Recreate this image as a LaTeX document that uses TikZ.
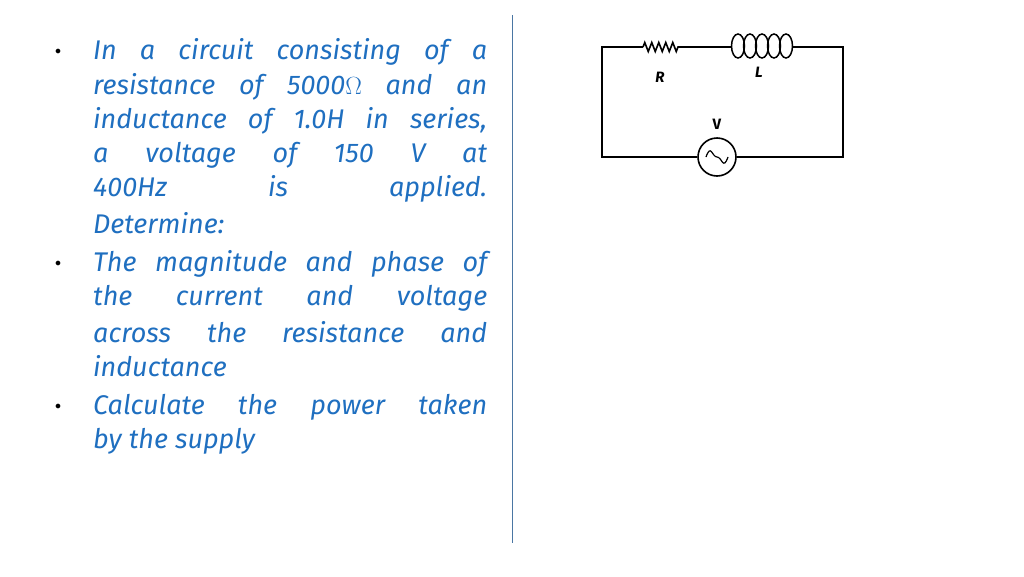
\documentclass[tikz,border=0pt]{standalone}
\usepackage{fontspec}
\setmainfont{Fira Sans}
\usetikzlibrary{decorations.pathmorphing}
\definecolor{inkblue}{HTML}{1F6FC0}
\tikzset{
    txt/.style={anchor=west, inner sep=0pt, text=inkblue, font=\fontsize{27}{30}\selectfont\itshape},
    bul/.style={anchor=center, inner sep=0pt, font=\fontsize{12}{14}\selectfont},
    wire/.style={draw=black, line width=1.6pt},
    lbl/.style={font=\fontsize{15}{17}\selectfont\bfseries, inner sep=0pt},
}
\newcommand{\jline}[1]{\makebox[394pt][s]{#1}}
\begin{document}
\begin{tikzpicture}[x=1pt,y=-1pt]
    \useasboundingbox (0,0) rectangle (1024,576);
    % divider
    \draw[draw=inkblue!55!gray, line width=1pt] (512,15) -- (512,543);

    % first item
    \node[bul] (b1) at (58,52) {$\bullet$};
    \node[txt] (t1) at (93,52) {\jline{In a circuit consisting of a}};
    \node[txt] (t2) at (93,87) {\jline{resistance of 5000$\Omega$ and an}};
    \node[txt] (t3) at (93,121) {\jline{inductance of 1.0H in series,}};
    \node[txt] (t4) at (93,155) {\jline{a voltage of 150 V at}};
    \node[txt] (t5) at (93,189) {\jline{400Hz is applied.}};
    \node[txt] (t6) at (93,223) {Determine:};
    % second item
    \node[bul] (b2) at (58,264) {$\bullet$};
    \node[txt] (t7) at (93,264) {\jline{The magnitude and phase of}};
    \node[txt] (t8) at (93,298) {\jline{the current and voltage}};
    \node[txt] (t9) at (93,332) {\jline{across the resistance and}};
    \node[txt] (t10) at (93,366) {inductance};
    % third item
    \node[bul] (b3) at (58,407) {$\bullet$};
    \node[txt] (t11) at (93,407) {\jline{Calculate the power taken}};
    \node[txt] (t12) at (93,441) {by the supply};

    % circuit
    \coordinate (tl) at (602,47);
    \coordinate (tr) at (843,47);
    \coordinate (bl) at (602,157);
    \coordinate (br) at (843,157);
    \coordinate (ra) at (643,47);
    \coordinate (rb) at (681,47);
    \coordinate (la) at (731,47);
    \coordinate (lb) at (793,47);
    \node[circle, draw, line width=1.6pt, minimum size=38pt, inner sep=0pt] (src) at (717,157) {};
    \draw[line width=1.2pt] ([xshift=-11pt]src.center) .. controls ++(5,-14) and ++(-5,0) .. (src.center)
        .. controls ++(5,0) and ++(-5,14) .. ([xshift=11pt]src.center);
    \draw[wire] (src.west) -- (bl) -- (tl) -- (ra);
    \draw[wire, decorate, decoration={zigzag, amplitude=4.5pt, segment length=7pt}] (ra) -- (rb);
    \draw[wire] (rb) -- (la);
    % coil loops
    \foreach \i in {0,...,4}
        \draw[line width=1.5pt] (738+12*\i,46) ellipse [x radius=6.5, y radius=12];
    \draw[wire] (lb) -- (tr) -- (br) -- (src.east);
    \node[lbl] (rl) at (660,77) {\textit{R}};
    \node[lbl] (ll) at (759,72) {\textit{L}};
    \node[lbl] (vl) at (717,124) {V};
\end{tikzpicture}
\end{document}
